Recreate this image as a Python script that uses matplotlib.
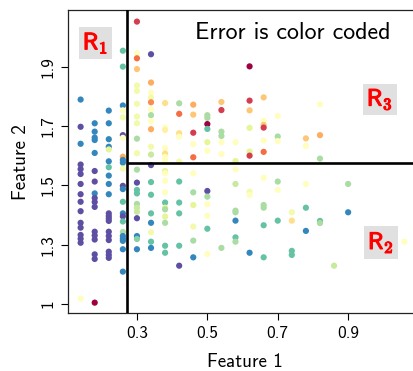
import numpy as np
import matplotlib
matplotlib.use("Agg")
from matplotlib import pyplot as plt
from matplotlib import patheffects

plt.rcParams['font.family'] = 'cmss10'
plt.rcParams['mathtext.fontset'] = 'cm'
plt.rcParams['axes.unicode_minus'] = False

# feature 1 takes a handful of discrete values, one column of points each
col_x = [0.14, 0.18, 0.22, 0.26, 0.30, 0.34, 0.38, 0.42, 0.46, 0.50, 0.54,
         0.58, 0.62, 0.66, 0.70, 0.74, 0.78, 0.82, 0.86, 0.90, 1.06]

col_y = [
    [1.798, 1.697, 1.634, 1.557, 1.540, 1.522, 1.485, 1.447, 1.419, 1.384,
     1.341, 1.323, 1.296, 1.282, 1.267, 1.060],
    [1.710, 1.679, 1.657, 1.648, 1.600, 1.533, 1.494, 1.450, 1.433, 1.418,
     1.400, 1.308, 1.294, 1.279, 1.224, 1.207, 1.045],
    [2.021, 1.757, 1.710, 1.651, 1.623, 1.613, 1.569, 1.547, 1.516, 1.485,
     1.447, 1.376, 1.366, 1.357, 1.348, 1.308, 1.292, 1.277, 1.234, 1.222, 1.211],
    [1.979, 1.920, 1.776, 1.758, 1.732, 1.666, 1.656, 1.586, 1.574, 1.564,
     1.542, 1.478, 1.466, 1.419, 1.376, 1.365, 1.346, 1.307, 1.292, 1.282,
     1.274, 1.243, 1.160],
    [2.087, 1.970, 1.951, 1.911, 1.850, 1.830, 1.782, 1.735, 1.710, 1.653,
     1.599, 1.538, 1.490, 1.463, 1.450, 1.411, 1.397, 1.382, 1.358, 1.292,
     1.281, 1.243],
    [1.966, 1.861, 1.824, 1.805, 1.788, 1.762, 1.740, 1.718, 1.688, 1.623,
     1.594, 1.555, 1.492, 1.445, 1.376, 1.341, 1.306, 1.271, 1.248],
    [1.785, 1.694, 1.685, 1.618, 1.598, 1.585, 1.574, 1.533, 1.525, 1.497,
     1.454, 1.416, 1.397, 1.391, 1.364, 1.341, 1.256, 1.230],
    [1.784, 1.745, 1.673, 1.660, 1.568, 1.494, 1.416, 1.376, 1.256, 1.182],
    [1.779, 1.742, 1.675, 1.633, 1.584, 1.525, 1.454, 1.407, 1.327, 1.275, 1.213],
    [1.740, 1.730, 1.707, 1.689, 1.640, 1.608, 1.459, 1.438, 1.410, 1.367,
     1.319, 1.225],
    [1.789, 1.759, 1.679, 1.663, 1.640, 1.596, 1.248],
    [1.640, 1.570, 1.539, 1.485, 1.386, 1.380, 1.349, 1.287, 1.271],
    [1.921, 1.794, 1.758, 1.693, 1.605, 1.590, 1.456, 1.444, 1.230],
    [1.806, 1.720, 1.704, 1.694, 1.646, 1.604, 1.508, 1.407, 1.397, 1.332, 1.213],
    [1.737, 1.661, 1.644, 1.494, 1.463, 1.349],
    [1.380, 1.349, 1.237, 1.222],
    [1.654, 1.626, 1.485, 1.397, 1.311],
    [1.780, 1.666, 1.579, 1.348, 1.340],
    [1.182],
    [1.485, 1.380],
    [1.271],
]

# prediction error per point (0 = low, 1 = high)
col_err = [
    [.1, 0, .1, 0, 0, 0, 0, 0, 0, 0, 0, 0, 0, 0, 0, .5],
    [.1, .1, .1, .1, .1, 0, 0, .1, 0, 0, 0, 0, 0, 0, 0, 0, 1.0],
    [.2, .1, .1, .1, .1, .4, .1, .2, .1, .1, .1, 0, 0, 0, 0, 0, 0, 0, 0, 0, 0],
    [.2, .2, .1, .5, .45, 0, .5, .7, .1, .1, .45, 0, .1, .2, .1, 0, .2, .3,
     .1, .1, .1, .1, .1],
    [.9, .5, .8, .65, .45, .45, .45, .45, .45, .3, .45, .3, 0, .2, .2, .3,
     .35, .35, 0, .1, .25, .1],
    [0, .7, .5, .45, .75, .5, .3, .5, .7, .45, .35, 0, .2, .2, .2, .1, .45, .2, .1],
    [.6, .5, .55, .5, .6, .5, .5, .4, .5, .5, .5, .2, .4, .3, .4, .3, .2, .2],
    [.3, .8, .6, .5, .45, .2, .2, .2, .2, 0],
    [.7, .65, .9, .5, .8, .5, .3, .4, .45, .3, .1],
    [.3, .3, 1.0, .2, .4, .5, 0, .3, .5, .5, .2, .5],
    [.65, .9, .3, .3, .5, .5, .3],
    [.5, .4, .5, .35, .3, .3, .1, .2, .3],
    [1.0, .9, .65, .4, .4, .9, .45, .5, .1],
    [.65, .5, .65, .9, .5, .8, .5, .3, .3, .2, .2],
    [.5, .3, .5, .3, .5, .2],
    [.45, .6, .2, .2],
    [.65, .5, .5, .2, .1],
    [.5, .7, .3, .2, .3],
    [.35],
    [.3, .1],
    [.5],
]

split_x = 0.2716
split_y = 1.563

xtick_vals = [0.3, 0.5, 0.7, 0.9]
ytick_vals = [1.04, 1.26, 1.48, 1.70, 1.92]
ytick_labels = ['1', '1.3', '1.5', '1.7', '1.9']

f1 = np.concatenate([[x] * len(ys) for x, ys in zip(col_x, col_y)])
f2 = np.concatenate(col_y)
err = np.concatenate(col_err)

fig = plt.figure(figsize=(4.13, 3.71), dpi=100)
ax = fig.add_axes([68.3 / 413, 57.7 / 371, 353.4 / 413, 303.3 / 371])

ax.scatter(f1, f2, c=err, cmap='Spectral_r', vmin=0, vmax=1, s=20,
           linewidths=0, zorder=2)

xmin, xmax = 0.105, 1.109
ax.set_xlim(xmin, xmax)
ax.set_ylim(1.0055, 2.130)

# the tree splits
ax.axvline(split_x, color='black', lw=1.9, zorder=3)
ax.hlines(split_y, split_x, xmax, color='black', lw=1.9, zorder=3)

# region labels, thickened a little so they read as bold
box = dict(boxstyle='square,pad=0.16', fc='#e0e0e0', ec='none')
bold = [patheffects.withStroke(linewidth=0.9, foreground='red')]
for name, rx, ry in [(r'R$_1$', 0.182, 2.008),
                     (r'R$_3$', 0.990, 1.798),
                     (r'R$_2$', 0.993, 1.268)]:
    ax.text(rx, ry, name, color='red', fontsize=17, ha='center', va='center',
            bbox=box, path_effects=bold)

ax.text(0.635, 0.925, 'Error is color coded', transform=ax.transAxes,
        fontsize=17.2, ha='center', va='center')

ax.set_xticks(xtick_vals)
ax.set_xticklabels([f'{v:g}' for v in xtick_vals])
ax.set_yticks(ytick_vals)
ax.set_yticklabels(ytick_labels)
ax.tick_params(direction='out', length=5, width=0.8, labelsize=12.4, pad=4)
ax.tick_params(axis='y', labelrotation=90)
for lab in ax.get_yticklabels():
    lab.set_va('center')

ax.set_xlabel('Feature 1', fontsize=13.7, labelpad=9)
ax.set_ylabel('Feature 2', fontsize=13.7, labelpad=8)

for side in ['left', 'top', 'bottom']:
    ax.spines[side].set_linewidth(0.9)
    ax.spines[side].set_color('#222222')
ax.spines['right'].set_visible(False)

fig.savefig('out.png', dpi=100)
